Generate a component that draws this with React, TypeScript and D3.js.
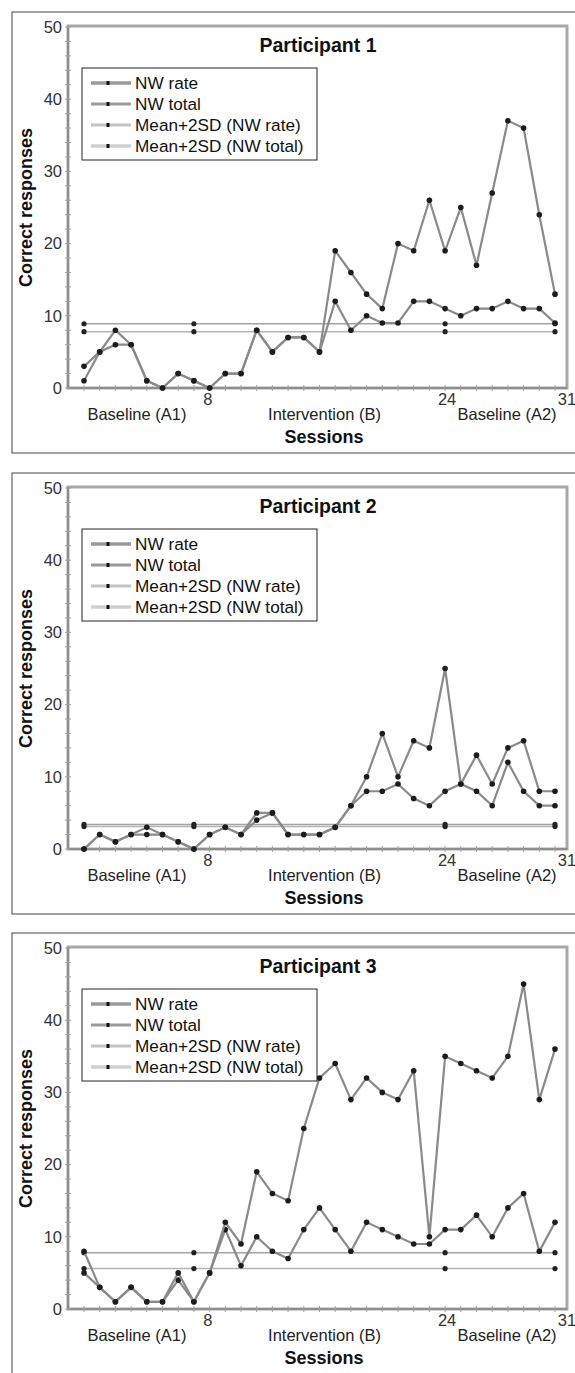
import React from "react";
import * as d3 from "d3";

// sessions 1..31, threshold markers at phase boundaries
const sessions = d3.range(1, 32);
const xTickValues = [8, 24, 31];
const thresholdSessions = [1, 8, 24, 31];
const yTickValues = [0, 10, 20, 30, 40, 50];
const phases = [
  { label: "Baseline (A1)", start: 1, end: 8 },
  { label: "Intervention (B)", start: 9, end: 23 },
  { label: "Baseline (A2)", start: 24, end: 31 },
];
const legendLabels = ["NW rate", "NW total", "Mean+2SD (NW rate)", "Mean+2SD (NW total)"];

const p1Rate = [1, 5, 6, 6, 1, 0, 2, 1, 0, 2, 2, 8, 5, 7, 7, 5, 12, 8, 10, 9, 9, 12, 12, 11, 10, 11, 11, 12, 11, 11, 9];
const p1Total = [3, 5, 8, 6, 1, 0, 2, 1, 0, 2, 2, 8, 5, 7, 7, 5, 19, 16, 13, 11, 20, 19, 26, 19, 25, 17, 27, 37, 36, 24, 13];
const p1RateSD = 7.8;
const p1TotalSD = 8.9;

const p2Rate = [0, 2, 1, 2, 2, 2, 1, 0, 2, 3, 2, 4, 5, 2, 2, 2, 3, 6, 8, 8, 9, 7, 6, 8, 9, 8, 6, 12, 8, 6, 6];
const p2Total = [0, 2, 1, 2, 3, 2, 1, 0, 2, 3, 2, 5, 5, 2, 2, 2, 3, 6, 10, 16, 10, 15, 14, 25, 9, 13, 9, 14, 15, 8, 8];
const p2RateSD = 3.1;
const p2TotalSD = 3.4;

const p3Rate = [5, 3, 1, 3, 1, 1, 4, 1, 5, 11, 6, 10, 8, 7, 11, 14, 11, 8, 12, 11, 10, 9, 9, 11, 11, 13, 10, 14, 16, 8, 12];
const p3Total = [8, 3, 1, 3, 1, 1, 5, 1, 5, 12, 9, 19, 16, 15, 25, 32, 34, 29, 32, 30, 29, 33, 10, 35, 34, 33, 32, 35, 45, 29, 36];
const p3RateSD = 5.6;
const p3TotalSD = 7.8;

const panels = [
  { title: "Participant 1", rate: p1Rate, total: p1Total, rateSD: p1RateSD, totalSD: p1TotalSD },
  { title: "Participant 2", rate: p2Rate, total: p2Total, rateSD: p2RateSD, totalSD: p2TotalSD },
  { title: "Participant 3", rate: p3Rate, total: p3Total, rateSD: p3RateSD, totalSD: p3TotalSD },
];

const FONT = "'Liberation Sans', Arial, Helvetica, sans-serif";
const tickDx: Record<number, number> = { 8: 14, 24: 2, 31: 12 };
const phaseDx = [-2, 5, 7];

const x = d3.scaleLinear().domain([1, 31]).range([84, 555]);
const y = d3.scaleLinear().domain([0, 50]).range([388, 27]);

const line = d3
  .line<number>()
  .x((_, i) => x(sessions[i]))
  .y((d) => y(d));

function Panel({ p, top }: { p: (typeof panels)[number]; top: number }) {
  const minorY = d3.range(0, 51, 2);
  const legendStyles = [
    { stroke: "#9a9a9a", width: 3.5 },
    { stroke: "#9a9a9a", width: 3 },
    { stroke: "#c4c4c4", width: 3 },
    { stroke: "#d0d0d0", width: 3.5 },
  ];
  return (
    <g transform={`translate(0,${top})`}>
      {/* outer panel border */}
      <rect x={12} y={12} width={600} height={441} fill="none" stroke="#444" strokeWidth={1} />

      {/* plot frame */}
      <rect x={68} y={26} width={499} height={362} fill="none" stroke="#a8a8a8" strokeWidth={3} />
      <line x1={68} x2={68} y1={26} y2={388} stroke="#8e8e8e" strokeWidth={2} />
      <line x1={68} x2={567} y1={388} y2={388} stroke="#8e8e8e" strokeWidth={2} />

      {/* minor ticks */}
      {minorY.map((v) => (
        <line key={"my" + v} x1={65} x2={71} y1={y(v)} y2={y(v)} stroke="#a0a0a0" strokeWidth={1} />
      ))}
      {sessions.map((s) => (
        <line key={"mx" + s} x1={x(s)} x2={x(s)} y1={385} y2={391} stroke="#a0a0a0" strokeWidth={1} />
      ))}

      {/* y tick labels */}
      {yTickValues.map((v) => (
        <text key={"yt" + v} x={62} y={y(v)} dy="0.35em" textAnchor="end" fontSize={16.5} fill="#333" fontFamily={FONT}>
          {v}
        </text>
      ))}

      {/* x tick labels */}
      {xTickValues.map((v) => (
        <text key={"xt" + v} x={x(v) + tickDx[v]} y={405} textAnchor="middle" fontSize={16.5} fill="#333" fontFamily={FONT}>
          {v}
        </text>
      ))}

      {phases.map((ph, i) => (
        <text key={ph.label} x={x((ph.start + ph.end) / 2) + phaseDx[i]} y={420} textAnchor="middle" fontSize={16.5} fill="#222" fontFamily={FONT}>
          {ph.label}
        </text>
      ))}

      <text x={324} y={443} textAnchor="middle" fontSize={18} fontWeight="bold" fill="#111" fontFamily={FONT}>
        Sessions
      </text>
      <text transform={`translate(32,${(y(0) + y(50)) / 2}) rotate(-90)`} textAnchor="middle" fontSize={18} fontWeight="bold" fill="#111" fontFamily={FONT}>
        Correct responses
      </text>
      <text x={318} y={52} textAnchor="middle" fontSize={19.5} fontWeight="bold" fill="#111" fontFamily={FONT}>
        {p.title}
      </text>

      {/* Mean+2SD lines */}
      {[p.rateSD, p.totalSD].map((v, k) => (
        <g key={"sd" + k}>
          <line x1={x(1)} x2={x(31)} y1={y(v)} y2={y(v)} stroke={k === 0 ? "#b4b4b4" : "#a4a4a4"} strokeWidth={1.5} />
          {thresholdSessions.map((s) => (
            <circle key={s} cx={x(s)} cy={y(v)} r={2.6} fill="#222" />
          ))}
        </g>
      ))}

      {/* data series */}
      {[p.rate, p.total].map((vals, k) => (
        <g key={"ser" + k}>
          <path d={line(vals) || ""} fill="none" stroke="#8a8a8a" strokeWidth={2.2} />
          {vals.map((v, i) => (
            <circle key={i} cx={x(sessions[i])} cy={y(v)} r={2.8} fill="#1c1c1c" />
          ))}
        </g>
      ))}

      {/* legend */}
      <rect x={82} y={68} width={235} height={92} fill="white" stroke="#222" strokeWidth={1} />
      {legendLabels.map((lab, i) => {
        const ly = 83 + i * 21;
        return (
          <g key={lab}>
            <line x1={91} x2={131} y1={ly} y2={ly} stroke={legendStyles[i].stroke} strokeWidth={legendStyles[i].width} />
            <rect x={106.5} y={ly - 2} width={3} height={4} fill="#111" />
            <text x={135} y={ly} dy="0.35em" fontSize={17.2} fill="#111" fontFamily={FONT}>
              {lab}
            </text>
          </g>
        );
      })}
    </g>
  );
}

export default function App() {
  const tops = [0, 461, 921];
  return (
    <svg
      width={575}
      height={1373}
      style={{ position: "absolute", left: 0, top: 0, background: "white", display: "block" }}
    >
      {panels.map((p, i) => (
        <Panel key={p.title} p={p} top={tops[i]} />
      ))}
    </svg>
  );
}
